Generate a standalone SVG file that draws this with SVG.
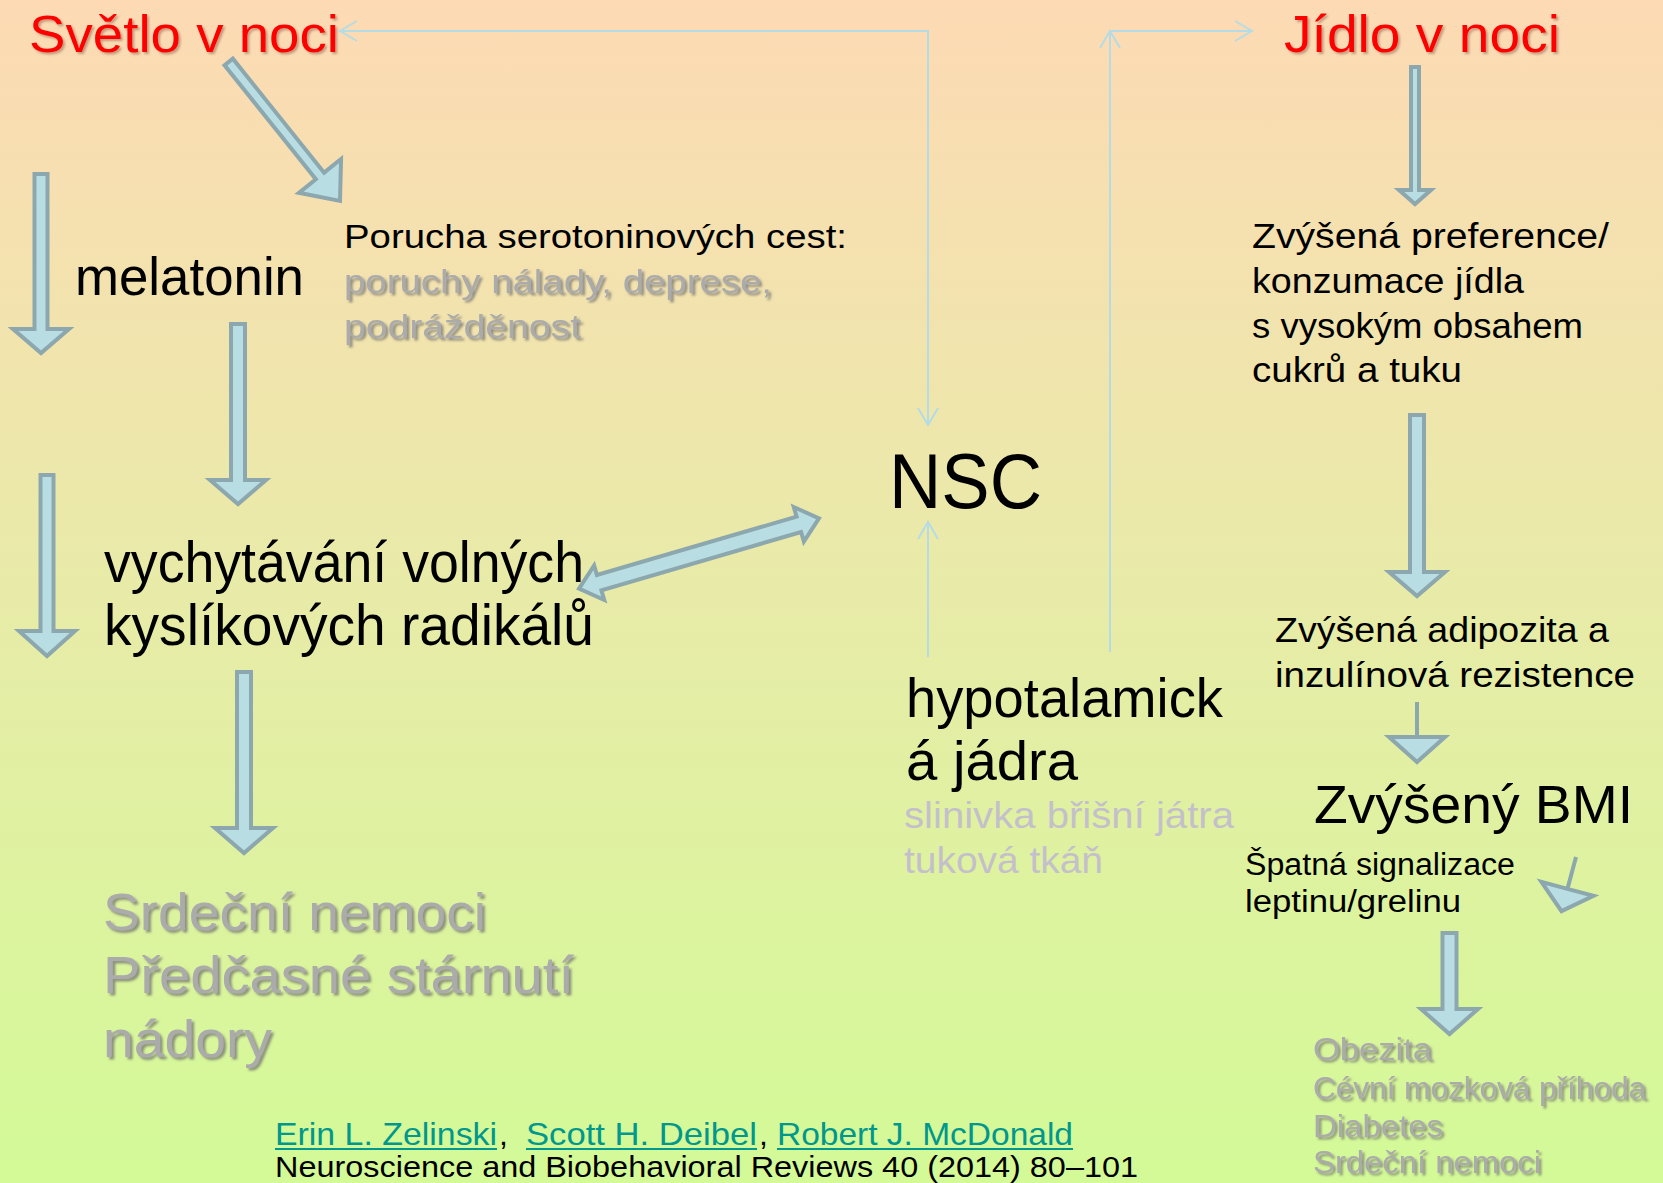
<svg xmlns="http://www.w3.org/2000/svg" width="1663" height="1183" viewBox="0 0 1663 1183">
<defs>
<linearGradient id="bg" x1="0" y1="0" x2="0" y2="1">
<stop offset="0" stop-color="#FDDAB4"/>
<stop offset="0.5" stop-color="#E8EBA8"/>
<stop offset="1" stop-color="#D3FA97"/>
</linearGradient>
<filter id="sh" x="-5%" y="-20%" width="110%" height="140%">
<feDropShadow dx="2" dy="2" stdDeviation="1" flood-color="#7a4a3a" flood-opacity="0.45"/>
</filter>
<filter id="sh2" x="-5%" y="-20%" width="110%" height="140%">
<feDropShadow dx="2.5" dy="2.5" stdDeviation="1" flood-color="#6f6f6f" flood-opacity="0.75"/>
</filter>
<style>
.t{font-family:"Liberation Sans","DejaVu Sans",sans-serif}
.k{fill:#000}
.red{fill:#FF0000;filter:url(#sh)}
.gray{fill:#ABABAB;filter:url(#sh2)}
.lav{fill:#C4C0CB}
.teal{fill:#00978C}
.ba{fill:#B8DEE4;stroke:#8CA7AD;stroke-width:4;stroke-linejoin:miter}
.thin{fill:none;stroke:#B5DCE5;stroke-width:2}
.ul{stroke:#00978C;stroke-width:2}
</style>
</defs>
<rect x="0" y="0" width="1663" height="1183" fill="url(#bg)"/>

<g id="connectors">
<polyline class="thin" points="342,31 928,31 928,423"/>
<polyline class="thin" points="357,21 340,31 357,41"/>
<polyline class="thin" points="918,408 928,425 938,408"/>
<line class="thin" x1="928" y1="657" x2="928" y2="524"/>
<polyline class="thin" points="918,539 928,522 938,539"/>
<line class="thin" x1="1110" y1="652" x2="1110" y2="33"/>
<polyline class="thin" points="1100,48 1110,31 1120,48"/>
<line class="thin" x1="1110" y1="31" x2="1250" y2="31"/>
<polyline class="thin" points="1235,21 1252,31 1235,41"/>

<polygon class="ba" transform="translate(228.7,62) rotate(-38.7)" points="-5.3,0 5.3,0 5.3,146 27,146 0,178 -27,146 -5.3,146"/>
<polygon class="ba" points="34.5,174 47.5,174 47.5,329 69,329 41,353 13,329 34.5,329"/>
<polygon class="ba" points="40.5,475 53.5,475 53.5,631 75,631 47,656 19,631 40.5,631"/>
<polygon class="ba" points="231,324 245,324 245,480 266,480 238,504 210,480 231,480"/>
<polygon class="ba" points="237,672 251,672 251,828 273,828 244,853 215,828 237,828"/>
<polygon class="ba" transform="translate(699,553.5) rotate(-16.3)" points="-125,0 -104,-18 -104,-8 104,-8 104,-18 125,0 104,18 104,8 -104,8 -104,18"/>
<polygon class="ba" points="1411,67 1419,67 1419,190 1431,190 1415,204 1399,190 1411,190"/>
<polygon class="ba" points="1410,415 1424,415 1424,572 1445,572 1417,596 1389,572 1410,572"/>
<polygon class="ba" points="1417,702 1417,702 1417,737 1445,737 1417,762 1389,737 1417,737"/>
<polygon class="ba" transform="translate(1576,857) rotate(15)" points="0,0 0,0 0,33 27,33 0,56 -27,33 0,33"/>
<polygon class="ba" points="1442.5,933 1456.5,933 1456.5,1009 1478,1009 1449.5,1034 1421,1009 1442.5,1009"/>
</g>

<g id="svetlo">
<text class="t red" x="29" y="52" font-size="52" textLength="310" lengthAdjust="spacingAndGlyphs">Světlo v noci</text>
</g>
<g id="jidlo">
<text class="t red" x="1284" y="52" font-size="52" textLength="276" lengthAdjust="spacingAndGlyphs">Jídlo v noci</text>
</g>
<g id="porucha">
<text class="t k" x="344" y="248" font-size="34" textLength="503" lengthAdjust="spacingAndGlyphs">Porucha serotoninových cest:</text>
<text class="t gray" x="344" y="293" font-size="34" textLength="428" lengthAdjust="spacingAndGlyphs">poruchy nálady, deprese,</text>
<text class="t gray" x="344" y="338" font-size="34" textLength="237" lengthAdjust="spacingAndGlyphs">podrážděnost</text>
</g>
<g id="melatonin">
<text class="t k" x="75" y="295" font-size="53" textLength="229" lengthAdjust="spacingAndGlyphs">melatonin</text>
</g>
<g id="vychytavani">
<text class="t k" x="104" y="582" font-size="57" textLength="480" lengthAdjust="spacingAndGlyphs">vychytávání volných</text>
<text class="t k" x="104" y="645" font-size="57" textLength="490" lengthAdjust="spacingAndGlyphs">kyslíkových radikálů</text>
</g>
<g id="srdecni">
<text class="t gray" x="103" y="930" font-size="52" textLength="383" lengthAdjust="spacingAndGlyphs">Srdeční nemoci</text>
<text class="t gray" x="103" y="993" font-size="52" textLength="471" lengthAdjust="spacingAndGlyphs">Předčasné stárnutí</text>
<text class="t gray" x="103" y="1057" font-size="52" textLength="169" lengthAdjust="spacingAndGlyphs">nádory</text>
</g>
<g id="nsc">
<text class="t k" x="889" y="508" font-size="78" textLength="153" lengthAdjust="spacingAndGlyphs">NSC</text>
</g>
<g id="hypotalamicka">
<text class="t k" x="906" y="717" font-size="56" textLength="317" lengthAdjust="spacingAndGlyphs">hypotalamick</text>
<text class="t k" x="906" y="780" font-size="56" textLength="172" lengthAdjust="spacingAndGlyphs">á jádra</text>
<text class="t lav" x="904" y="828" font-size="36" textLength="330" lengthAdjust="spacingAndGlyphs">slinivka břišní játra</text>
<text class="t lav" x="904" y="873" font-size="36" textLength="199" lengthAdjust="spacingAndGlyphs">tuková tkáň</text>
</g>
<g id="preference">
<text class="t k" x="1252" y="248" font-size="35" textLength="357" lengthAdjust="spacingAndGlyphs">Zvýšená preference/</text>
<text class="t k" x="1252" y="293" font-size="35" textLength="272" lengthAdjust="spacingAndGlyphs">konzumace jídla</text>
<text class="t k" x="1252" y="338" font-size="35" textLength="331" lengthAdjust="spacingAndGlyphs">s vysokým obsahem</text>
<text class="t k" x="1252" y="382" font-size="35" textLength="210" lengthAdjust="spacingAndGlyphs">cukrů a tuku</text>
</g>
<g id="adipozita">
<text class="t k" x="1275" y="642" font-size="35" textLength="334" lengthAdjust="spacingAndGlyphs">Zvýšená adipozita a</text>
<text class="t k" x="1275" y="687" font-size="35" textLength="360" lengthAdjust="spacingAndGlyphs">inzulínová rezistence</text>
</g>
<g id="bmi">
<text class="t k" x="1314" y="823" font-size="53" textLength="319" lengthAdjust="spacingAndGlyphs">Zvýšený BMI</text>
</g>
<g id="signalizace">
<text class="t k" x="1245" y="875" font-size="31" textLength="270" lengthAdjust="spacingAndGlyphs">Špatná signalizace</text>
<text class="t k" x="1245" y="912" font-size="31" textLength="216" lengthAdjust="spacingAndGlyphs">leptinu/grelinu</text>
</g>
<g id="nemoci">
<text class="t gray" x="1313" y="1060" font-size="31" textLength="119" lengthAdjust="spacingAndGlyphs">Obezita</text>
<text class="t gray" x="1313" y="1099" font-size="31" textLength="333" lengthAdjust="spacingAndGlyphs">Cévní mozková příhoda</text>
<text class="t gray" x="1313" y="1137" font-size="31" textLength="130" lengthAdjust="spacingAndGlyphs">Diabetes</text>
<text class="t gray" x="1313" y="1173" font-size="31" textLength="228" lengthAdjust="spacingAndGlyphs">Srdeční nemoci</text>
</g>
<g id="citation">
<text class="t teal" x="275" y="1145" font-size="32" textLength="222" lengthAdjust="spacingAndGlyphs">Erin L. Zelinski</text>
<text class="t k" x="499" y="1145" font-size="32">,</text>
<text class="t teal" x="526" y="1145" font-size="32" textLength="231" lengthAdjust="spacingAndGlyphs">Scott H. Deibel</text>
<text class="t k" x="759" y="1145" font-size="32">,</text>
<text class="t teal" x="777" y="1145" font-size="32" textLength="296" lengthAdjust="spacingAndGlyphs">Robert J. McDonald</text>
<line class="ul" x1="275" y1="1149" x2="497" y2="1149"/>
<line class="ul" x1="526" y1="1149" x2="757" y2="1149"/>
<line class="ul" x1="777" y1="1149" x2="1073" y2="1149"/>
<text class="t k" x="275" y="1177" font-size="29" textLength="863" lengthAdjust="spacingAndGlyphs">Neuroscience and Biobehavioral Reviews 40 (2014) 80–101</text>
</g>
</svg>
